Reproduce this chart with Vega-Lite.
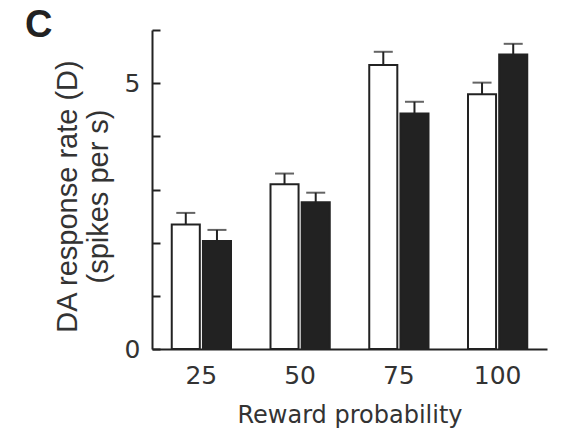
{
  "$schema": "https://vega.github.io/schema/vega-lite/v6.json",
  "width": 395,
  "height": 319,
  "autosize": {"type": "none"},
  "padding": {"left": 152, "top": 30, "right": 16, "bottom": 81},
  "background": "white",
  "title": {"text": "C", "anchor": "start", "frame": "group", "dx": -127, "dy": 20, "fontSize": 38, "fontWeight": "bold", "font": "Liberation Sans", "color": "#222"},
  "config": {"view": {"stroke": null}, "font": "Liberation Sans"},
  "data": {"values": [
    {"prob": 25, "cond": "Set 1", "mean": 2.34, "upper": 2.56},
    {"prob": 25, "cond": "Set 2", "mean": 2.03, "upper": 2.24},
    {"prob": 50, "cond": "Set 1", "mean": 3.10, "upper": 3.30},
    {"prob": 50, "cond": "Set 2", "mean": 2.76, "upper": 2.94},
    {"prob": 75, "cond": "Set 1", "mean": 5.34, "upper": 5.59},
    {"prob": 75, "cond": "Set 2", "mean": 4.43, "upper": 4.65},
    {"prob": 100, "cond": "Set 1", "mean": 4.79, "upper": 5.01},
    {"prob": 100, "cond": "Set 2", "mean": 5.54, "upper": 5.74}
  ]},
  "encoding": {
    "x": {"field": "prob", "type": "ordinal", "scale": {"paddingInner": 0.4, "paddingOuter": 0.2},
      "axis": {"title": "Reward probability", "titleFont": "DejaVu Sans", "titleFontSize": 24, "titleFontWeight": "normal", "titleColor": "#333", "titlePadding": 15,
        "labelAngle": 0, "labelFont": "DejaVu Sans", "labelFontSize": 25, "labelColor": "#333", "labelPadding": 14, "ticks": false,
        "domainWidth": 2, "domainColor": "#222"}},
    "xOffset": {"field": "cond", "type": "nominal", "scale": {"paddingInner": 0.1, "paddingOuter": 0}}
  },
  "layer": [
    {"mark": {"type": "bar", "stroke": "#222", "strokeWidth": 2},
     "encoding": {
       "y": {"field": "mean", "type": "quantitative", "scale": {"domain": [0, 6], "nice": false},
         "axis": {"title": ["DA response rate (D)", "(spikes per s)"], "titleFontSize": 29, "titleFontWeight": "normal", "titleColor": "#333", "titleLineHeight": 31, "titlePadding": 11, "titleY": 166,
           "values": [0, 1, 2, 3, 4, 5, 6], "labelExpr": "datum.value == 0 || datum.value == 5 ? datum.label : ''",
           "labelFont": "DejaVu Sans", "labelFontSize": 25, "labelColor": "#333", "labelPadding": 20, "tickSize": -8, "tickWidth": 2, "tickColor": "#222",
           "domainWidth": 2, "domainColor": "#222", "grid": false}},
       "fill": {"field": "cond", "type": "nominal", "scale": {"range": ["white", "#222"]}, "legend": null}
     }},
    {"mark": {"type": "rule", "strokeWidth": 2, "color": "#222"},
     "encoding": {"y": {"field": "mean", "type": "quantitative"}, "y2": {"field": "upper"}}},
    {"mark": {"type": "tick", "thickness": 2, "size": 19, "color": "#222"},
     "encoding": {"y": {"field": "upper", "type": "quantitative"}}}
  ]
}
